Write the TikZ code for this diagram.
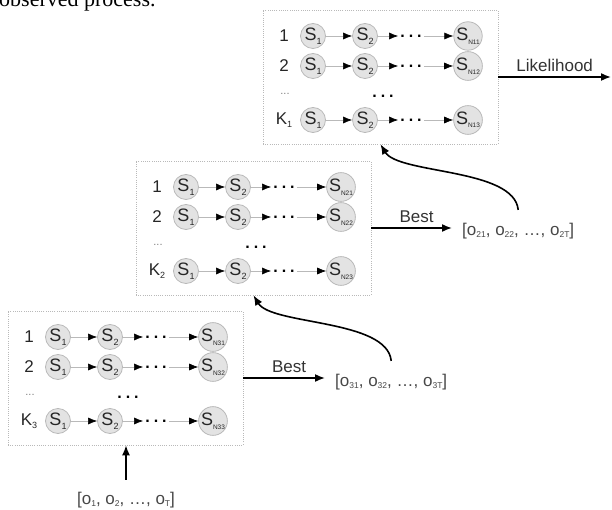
\documentclass[tikz,border=0pt]{standalone}
\usepackage{fontspec}
\setmainfont{Liberation Sans}
\newfontfamily\serifobs{Liberation Serif}
\usetikzlibrary{arrows.meta}

\newcommand\fs[1]{\fontsize{#1}{#1}\selectfont}
\newcommand\lsub[1]{\raisebox{-3.5pt}{\fs{9}#1}}
\newcommand\nsub[1]{\raisebox{-3.5pt}{\fs{6.5}#1}}
\newcommand\osub[1]{\raisebox{-2.5pt}{\fs{8.5}#1}}
\newcommand\chaindots{\textbf{.\kern4pt.\kern4pt.}}

\tikzset{
  panel/.style={draw=gray!55, line width=0.6pt, dash pattern=on 1pt off 1.2pt,
    minimum width=235pt, minimum height=134pt, inner sep=0pt},
  st/.style={circle, draw=gray!55, fill=gray!22, line width=0.8pt,
    minimum size=25pt, inner sep=0pt, font=\fs{18}, text=black!85},
  rowlab/.style={font=\fs{17}, text=black!85, inner sep=0pt},
  cdots/.style={font=\fs{16}, inner sep=0pt, inner xsep=2pt},
  chain/.style={draw=gray!55, line width=0.6pt,
    -{Latex[length=9pt,width=7pt,color=black]}},
  flow/.style={draw=black, line width=1.6pt, -{Latex[length=10pt,width=8pt]}},
  obs/.style={font=\fs{17}, text=black!72, inner sep=0pt},
  lab/.style={font=\fs{17}, text=black!80, inner sep=0pt},
}

\newcommand\hmmrow[4]{%
  \node[rowlab] (#1-l) at (21,#2) {#3};
  \node[st] (#1-a) at (50,#2) {S\lsub{1}};
  \node[st] (#1-b) at (102,#2) {S\lsub{2}};
  \node[cdots] (#1-d) at (148,#2) {\chaindots};
  \node[st] (#1-n) at (205,#2) {S\nsub{#4}};
  \draw[chain] (#1-a) -- (#1-b);
  \draw[chain] (#1-b) -- (#1-d);
  \draw[chain] (#1-d) -- (#1-n);
}

\newcommand\hmmpanel[5]{%
  \begin{scope}[shift={(#2,#3)}]
    \node[panel] (#1) at (117.5,67) {};
    \hmmrow{#1r1}{26}{1}{N#51}
    \hmmrow{#1r2}{56}{2}{N#52}
    \node[rowlab, text=gray, font=\fs{11}] (#1-vl) at (22,84) {...};
    \node[cdots] (#1-vm) at (120,86) {\chaindots};
    \hmmrow{#1rk}{110}{K\lsub{#4}}{N#53}
  \end{scope}}

\begin{document}
\begin{tikzpicture}[x=1pt, y=-1pt]
  \useasboundingbox (0,0) rectangle (612,510);
  \clip (0,0) rectangle (612,510);

  \node[font=\serifobs\fs{22}, anchor=base west, inner sep=0pt] (cap) at (-1,7) {observed process.};

  \hmmpanel{p1}{263}{10}{1}{1}
  \hmmpanel{p2}{136}{161}{2}{2}
  \hmmpanel{p3}{8}{311}{3}{3}

  % outputs
  \coordinate (lk) at (611,77);
  \draw[flow] (p1.east) -- (lk) node[midway, above=5pt, lab] (lkl) {Likelihood};

  \node[obs, anchor=west] (o2) at (462,231) {[o\osub{21}, o\osub{22}, \ldots, o\osub{2T}]};
  \draw[flow, shorten >=10pt] (p2.east) -- (p2.east -| o2.west) node[midway, above=5pt, lab] (b2l) {Best};

  \node[obs, anchor=west] (o3) at (335,382) {[o\osub{31}, o\osub{32}, \ldots, o\osub{3T}]};
  \draw[flow, shorten >=10pt] (p3.east) -- (p3.east -| o3.west) node[midway, above=5pt, lab] (b3l) {Best};

  \node[obs] (o0) at (126,500) {[o\osub{1}, o\osub{2}, \ldots, o\osub{T}]};
  \draw[flow, shorten <=12pt] (o0.north) -- (o0.north |- p3.south);

  % feedback curves
  \draw[flow] ([yshift=13pt]o2.north) .. controls +(-4,-42) and +(18,30) .. (p1.south);
  \draw[flow] ([yshift=13pt]o3.north) .. controls +(-4,-42) and +(18,30) .. (p2.south);
\end{tikzpicture}
\end{document}
